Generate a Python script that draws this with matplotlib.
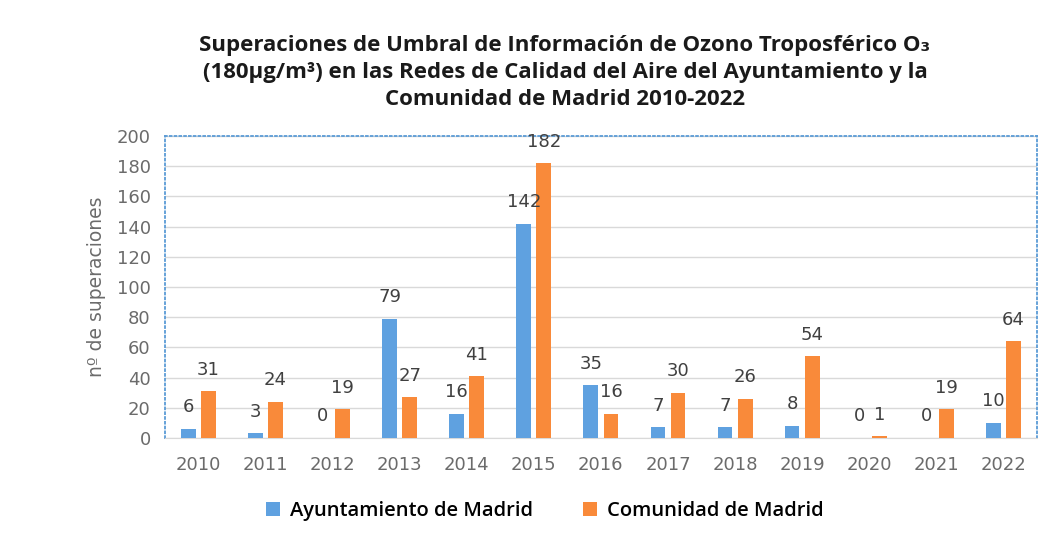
import matplotlib.pyplot as plt
import numpy as np

years = ['2010', '2011', '2012', '2013', '2014', '2015', '2016',
         '2017', '2018', '2019', '2020', '2021', '2022']
ayto = [6, 3, 0, 79, 16, 142, 35, 7, 7, 8, 0, 0, 10]
cam = [31, 24, 19, 27, 41, 182, 16, 30, 26, 54, 1, 19, 64]
series_names = ['Ayuntamiento de Madrid', 'Comunidad de Madrid']

blue = '#5FA1E0'
orange = '#F98A3A'
gray_txt = '#6b6b6b'
fam = ['Open Sans', 'DejaVu Sans']

fig = plt.figure(figsize=(10.56, 5.38), dpi=100)
ax = fig.add_axes([0.156, 0.186, 0.826, 0.561])

x = np.arange(len(years))
w = 0.22
b1 = ax.bar(x - 0.15, ayto, w, color=blue, label=series_names[0], zorder=3)
b2 = ax.bar(x + 0.15, cam, w, color=orange, label=series_names[1], zorder=3)

for bars, vals in ((b1, ayto), (b2, cam)):
    for r, v in zip(bars, vals):
        ax.annotate(str(v), (r.get_x() + r.get_width() / 2, v),
                    xytext=(0, 9), textcoords='offset points',
                    ha='center', va='bottom', fontsize=13, color='#404040')

ax.set_xlim(-0.5, len(years) - 0.5)
ax.set_ylim(0, 200)
ax.set_yticks(range(0, 201, 20))
ax.set_xticks(x)
ax.set_xticklabels(years)
ax.tick_params(axis='y', length=0, labelsize=13, labelcolor=gray_txt, pad=10)
ax.tick_params(axis='x', length=0, labelsize=13, labelcolor=gray_txt, pad=13)
ax.yaxis.grid(True, color='#d9d9d9', lw=1, zorder=0)
ax.set_axisbelow(True)
for s in ['top', 'left', 'right']:
    ax.spines[s].set_linestyle(':')
    ax.spines[s].set_color('#5B9BD5')
    ax.spines[s].set_linewidth(1.3)
ax.spines['bottom'].set_color('#d9d9d9')
ax.set_ylabel('nº de superaciones', fontsize=13.5, color=gray_txt, labelpad=8)

fig.text(0.535, 0.866, 'Superaciones de Umbral de Información de Ozono Troposférico O₃\n'
         '(180µg/m³) en las Redes de Calidad del Aire del Ayuntamiento y la\n'
         'Comunidad de Madrid 2010-2022',
         ha='center', va='center', fontsize=16, fontweight='bold',
         family=fam, linespacing=1.38, color='#1a1a1a')

leg = fig.legend(handles=[b1, b2], loc='center', bbox_to_anchor=(0.516, 0.05),
                 ncol=2, frameon=False, handlelength=0.7, handleheight=0.7,
                 columnspacing=2.5, handletextpad=0.5,
                 prop={'family': fam, 'size': 14.5, 'weight': 'semibold'})

fig.savefig('out.png', dpi=100)
